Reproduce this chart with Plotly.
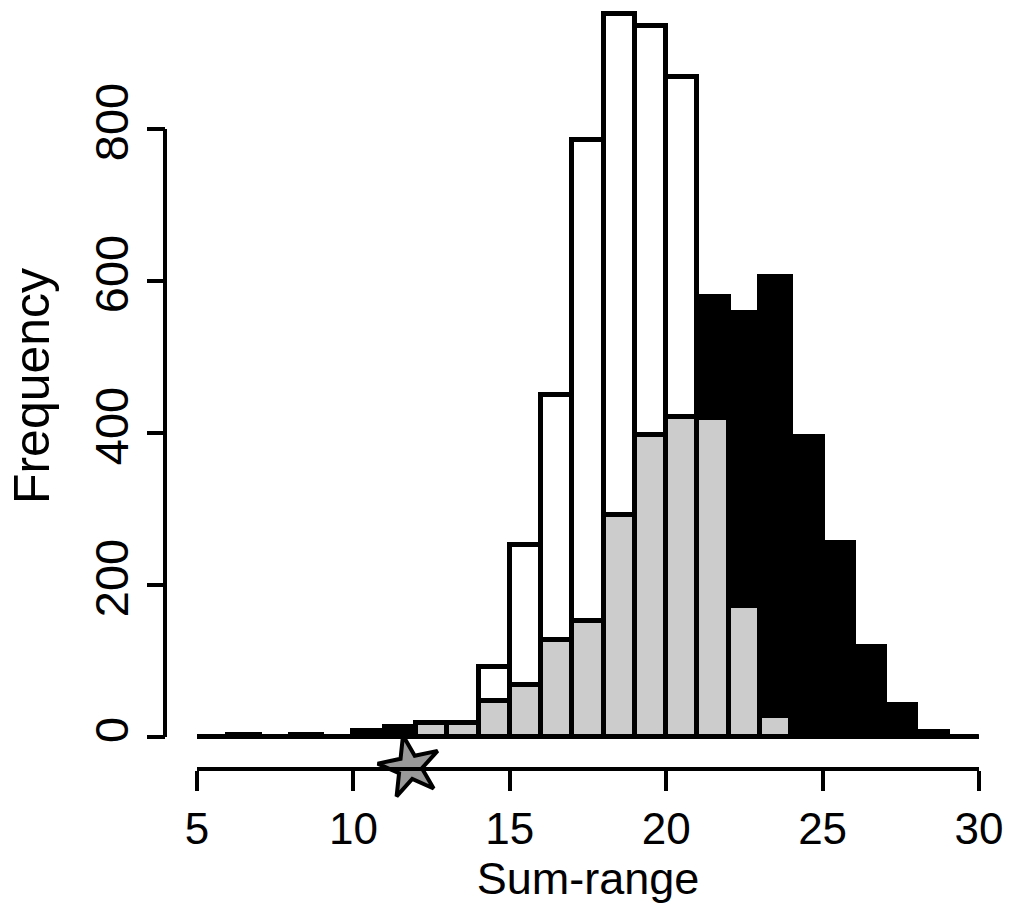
import plotly.graph_objects as go

# ---- data ----
bin_left = list(range(5, 30))           # histogram bins of width 1: [5,6), [6,7) ... [29,30)
white_counts = [0, 0, 0, 0, 0, 0, 0, 18, 18, 92, 253, 450, 785, 951, 936, 869, 420, 173, 28, 3, 0, 0, 0, 0, 0]
black_counts = [0, 3, 0, 3, 0, 8, 13, 18, 18, 47, 68, 127, 153, 292, 397, 421, 579, 558, 605, 395, 255, 118, 42, 6, 0]
gray_counts  = [0, 0, 0, 0, 0, 0, 0, 18, 18, 47, 68, 127, 153, 292, 397, 421, 420, 173, 28, 3, 0, 0, 0, 0, 0]
observed_value = 11.8
x_ticks = [5, 10, 15, 20, 25, 30]
y_ticks = [0, 200, 400, 600, 800]

Y_MIN, Y_MAX = -39.5, 963.2
FONT = "Liberation Sans, Arial, Helvetica, sans-serif"

centers = [b + 0.5 for b in bin_left]

fig = go.Figure()
for vals, col in [(white_counts, "white"), (black_counts, "black"), (gray_counts, "#cccccc")]:
    fig.add_trace(go.Bar(
        x=centers, y=vals, width=1,
        marker=dict(color=col, line=dict(color="black", width=5)),
        showlegend=False, hoverinfo="x+y",
    ))

fig.add_trace(go.Scatter(
    x=[observed_value], y=[Y_MIN], mode="markers", cliponaxis=False,
    marker=dict(symbol="star", size=46, color="#999999", angle=-12,
                line=dict(color="black", width=4)),
    showlegend=False,
))

# baseline of the histogram and R-style y axis line (0..800 only)
fig.add_shape(type="line", xref="x", yref="y", x0=5, x1=30, y0=0, y1=0,
              line=dict(color="black", width=4), layer="above")
fig.add_shape(type="line", xref="paper", yref="y", x0=5/819, x1=5/819, y0=0, y1=800,
              line=dict(color="black", width=4), layer="above")

fig.update_layout(
    width=1013, height=909,
    margin=dict(l=160, r=34, t=5, b=142),
    barmode="overlay", bargap=0,
    plot_bgcolor="white", paper_bgcolor="white",
    font=dict(family=FONT, color="black", size=46),
    xaxis=dict(
        domain=[37/819, 1], range=[5, 30],
        showline=True, linecolor="black", linewidth=4,
        ticks="outside", ticklen=20, tickwidth=4, tickcolor="black",
        tickvals=x_ticks, ticktext=[str(v) for v in x_ticks],
        tickfont=dict(size=44), showgrid=False, zeroline=False,
        title=dict(text="Sum-range", font=dict(size=45), standoff=12),
    ),
    yaxis=dict(
        anchor="free", position=5/819, range=[Y_MIN, Y_MAX],
        showline=False, ticks="outside", ticklen=18, tickwidth=4, tickcolor="black",
        tickvals=y_ticks, ticktext=[str(v) for v in y_ticks], tickangle=-90,
        tickfont=dict(size=47), showgrid=False, zeroline=False,
        title=dict(text="Frequency", font=dict(size=50), standoff=18),
    ),
)

fig.write_html("out.html")
